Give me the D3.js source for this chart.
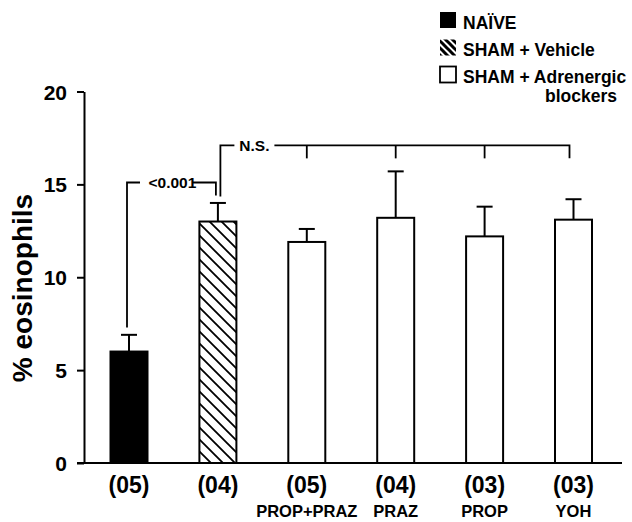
<!DOCTYPE html>
<html>
<head>
<meta charset="utf-8">
<script src="https://cdn.jsdelivr.net/npm/d3@7"></script>
<style>
  html, body { margin: 0; padding: 0; background: #fff; }
  svg text { font-family: "Liberation Sans", Arial, Helvetica, sans-serif; font-weight: bold; fill: #000; }
</style>
</head>
<body>
<svg id="chart" width="632" height="522"></svg>
<script>
// Group sizes shown under each bar
const groupN = ["(05)", "(04)", "(05)", "(04)", "(03)", "(03)"];
// Treatment names on the second label row
const treatments = ["", "", "PROP+PRAZ", "PRAZ", "PROP", "YOH"];
// Fill style of each bar: naive, sham vehicle, sham + blockers
const groupKind = ["naive", "vehicle", "blocker", "blocker", "blocker", "blocker"];
// Mean % eosinophils and standard error
const meanValues = [6.0, 13.0, 11.9, 13.2, 12.2, 13.1];
const semValues = [0.9, 1.0, 0.7, 2.5, 1.6, 1.1];
// Y axis ticks
const yTicks = [0, 5, 10, 15, 20];
// Legend entries
const legendLabels = ["NAÏVE", "SHAM + Vehicle", "SHAM + Adrenergic"];
const legendKinds = ["naive", "vehicle", "blocker"];
const legendSecondLine = "blockers";
// Statistical comparisons
const pLabel = "<0.001";
const nsLabel = "N.S.";

const svg = d3.select("#chart");
const ids = d3.range(groupN.length);

const y = d3.scaleLinear().domain([0, 20]).range([463, 91.5]);
const x = d3.scalePoint().domain(ids).range([129, 573.5]);
const barW = 37;
const axisX = 84;

// Diagonal hatching for the vehicle group
const defs = svg.append("defs");
defs.append("pattern")
  .attr("id", "hatchBar")
  .attr("patternUnits", "userSpaceOnUse")
  .attr("width", 12).attr("height", 12)
  .append("path")
  .attr("d", "M-3,-3 L15,15 M-3,9 L3,15 M9,-3 L15,3")
  .attr("stroke", "#000").attr("stroke-width", 1.8);
defs.append("pattern")
  .attr("id", "hatchKey")
  .attr("patternUnits", "userSpaceOnUse")
  .attr("width", 7).attr("height", 7)
  .append("path")
  .attr("d", "M-2,-2 L9,9 M-2,5 L2,9 M5,-2 L9,2")
  .attr("stroke", "#000").attr("stroke-width", 3);

const fillFor = (k, key) => k === "naive" ? "#000" : k === "vehicle" ? (key ? "url(#hatchKey)" : "url(#hatchBar)") : "#fff";

// Y axis
const yAxis = svg.append("g")
  .attr("transform", `translate(${axisX},0)`)
  .call(d3.axisLeft(y).tickValues(yTicks).tickSize(7).tickSizeOuter(0).tickPadding(10).tickFormat(d3.format("d")));
yAxis.selectAll("path, line").attr("stroke", "#000").attr("stroke-width", 2);
yAxis.selectAll("text").style("font-size", "21px").attr("dy", "0.36em");

// X axis baseline
svg.append("line")
  .attr("x1", axisX - 7).attr("x2", 622)
  .attr("y1", y(0)).attr("y2", y(0))
  .attr("stroke", "#000").attr("stroke-width", 2);

// Error bars (upper whisker only)
const err = svg.append("g").attr("stroke", "#000").attr("stroke-width", 2);
err.selectAll("line.v").data(ids).join("line")
  .attr("x1", i => x(i)).attr("x2", i => x(i))
  .attr("y1", i => y(meanValues[i])).attr("y2", i => y(meanValues[i] + semValues[i]));
err.selectAll("line.c").data(ids).join("line")
  .attr("x1", i => x(i) - 8).attr("x2", i => x(i) + 8)
  .attr("y1", i => y(meanValues[i] + semValues[i])).attr("y2", i => y(meanValues[i] + semValues[i]));

// Bars
svg.append("g").selectAll("rect").data(ids).join("rect")
  .attr("x", i => x(i) - barW / 2)
  .attr("width", barW)
  .attr("y", i => y(meanValues[i]))
  .attr("height", i => y(0) - y(meanValues[i]))
  .attr("fill", i => fillFor(groupKind[i]))
  .attr("stroke", "#000").attr("stroke-width", 2);

// Category labels
svg.append("g").selectAll("text").data(ids).join("text")
  .attr("x", i => x(i)).attr("y", 493)
  .attr("text-anchor", "middle")
  .style("font-size", "23px")
  .text(i => groupN[i]);
svg.append("g").selectAll("text").data(ids.filter(i => treatments[i])).join("text")
  .attr("x", i => x(i)).attr("y", 516.5)
  .attr("text-anchor", "middle")
  .style("font-size", "16.5px")
  .text(i => treatments[i]);

// Y axis title
svg.append("text")
  .attr("transform", "translate(32,288) rotate(-90)")
  .attr("text-anchor", "middle")
  .style("font-size", "28px")
  .text("% eosinophils");

// Significance bracket: naive vs vehicle
const br = svg.append("g").attr("fill", "none").attr("stroke", "#000").attr("stroke-width", 1.8);
const b1 = y(15.1), x0 = x(0) - 2, x1 = x(1) - 2;
br.append("path").attr("d", `M${x0},${y(7.3)} V${b1} H${x0 + 13}`);
br.append("path").attr("d", `M${x1 - 23},${b1} H${x1} V${y(14.4)}`);
svg.append("text").attr("x", (x0 + x1) / 2 + 1).attr("y", b1 + 5.5)
  .attr("text-anchor", "middle").style("font-size", "15.5px").text(pLabel);

// N.S. bracket: vehicle vs adrenergic blockers
const b2 = y(17.1), xv = x(1) + 2.5;
br.append("path").attr("d", `M${xv},${y(14.35)} V${b2} H${xv + 14}`);
br.append("path").attr("d", `M${xv + 54},${b2} H${x(5) - 4} V${y(16.4)}`);
ids.slice(2, 5).forEach(i => {
  br.append("line").attr("x1", x(i)).attr("x2", x(i)).attr("y1", b2).attr("y2", y(16.4));
});
svg.append("text").attr("x", xv + 34).attr("y", b2 + 5.5)
  .attr("text-anchor", "middle").style("font-size", "15.5px").text(nsLabel);

// Legend
const legBase = [28.5, 56, 83];
const leg = svg.append("g");
legendLabels.forEach((lab, i) => {
  leg.append("rect")
    .attr("x", 440).attr("y", legBase[i] - 16.5)
    .attr("width", 16).attr("height", 16)
    .attr("fill", fillFor(legendKinds[i], true))
    .attr("stroke", legendKinds[i] === "blocker" ? "#000" : "none")
    .attr("stroke-width", 1.8);
  leg.append("text").attr("x", 463).attr("y", legBase[i])
    .style("font-size", "17.5px").text(lab);
});
leg.append("text").attr("x", 617).attr("y", 102)
  .attr("text-anchor", "end").style("font-size", "17.5px").text(legendSecondLine);
</script>
</body>
</html>
